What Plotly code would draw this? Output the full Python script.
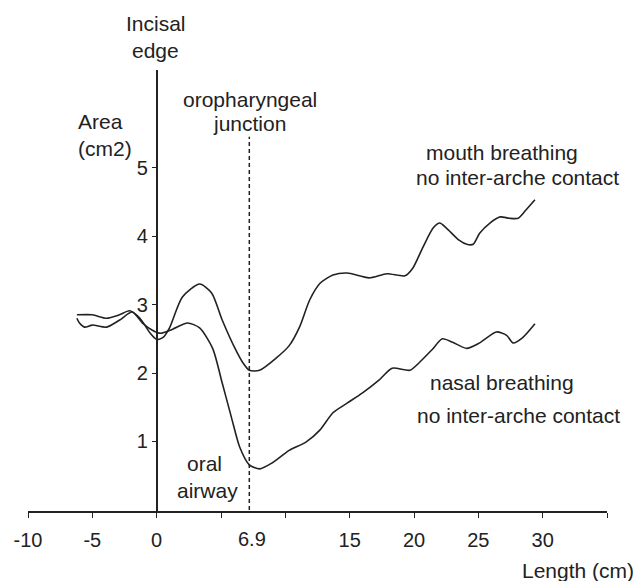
import plotly.graph_objects as go

# ---- data ----
mouth_x = [-6.2, -5.0, -3.9, -2.9, -2.1, -1.3, -0.5, 0.0, 0.5, 1.0, 2.0, 3.34, 4.27, 5.1, 6.06,
           6.7, 7.2, 8.0, 9.3, 10.3, 11.1, 11.9, 12.7, 13.7, 14.8, 16.5, 17.9, 19.3, 19.9, 20.7,
           21.5, 22.0, 22.5, 23.5, 24.1, 24.6, 25.1, 25.9, 26.7, 27.4, 28.1, 28.7, 29.4]
mouth_y = [2.85, 2.85, 2.80, 2.85, 2.91, 2.80, 2.58, 2.49, 2.52, 2.66, 3.11, 3.30, 3.17, 2.77, 2.37,
           2.15, 2.04, 2.04, 2.22, 2.40, 2.67, 3.07, 3.31, 3.43, 3.46, 3.39, 3.45, 3.42, 3.53, 3.84,
           4.12, 4.19, 4.12, 3.94, 3.88, 3.88, 4.04, 4.19, 4.28, 4.26, 4.26, 4.38, 4.53]

nasal_x = [-6.2, -6.0, -5.6, -5.0, -3.9, -2.9, -1.9, -1.1, -0.3, 0.3, 1.24, 2.4, 3.34, 4.35, 5.1,
           5.8, 6.45, 7.2, 8.0, 9.0, 10.3, 11.6, 12.7, 13.7, 14.8, 16.0, 17.3, 18.3,
           19.7, 20.4, 21.4, 22.2, 23.0, 24.1, 25.1, 26.4, 27.2, 27.7, 28.4, 29.4]
nasal_y = [2.80, 2.73, 2.67, 2.70, 2.67, 2.77, 2.89, 2.73, 2.62, 2.58, 2.64, 2.73, 2.66, 2.36, 1.85,
           1.36, 0.92, 0.66, 0.60, 0.69, 0.87, 0.99, 1.17, 1.42, 1.56, 1.71, 1.90, 2.07,
           2.04, 2.15, 2.34, 2.50, 2.45, 2.36, 2.44, 2.60, 2.55, 2.44, 2.51, 2.72]

x_tickvals = [-10, -5, 0, 5, 10, 15, 20, 25, 30, 35]
x_ticktext = ["-10", "-5", "0", "", "", "15", "20", "25", "30", ""]
y_tickvals = [1, 2, 3, 4, 5]
y_ticktext = ["1", "2", "3", "4", "5"]

junction_x = 7.2
junction_label = "6.9"

INK = "#222222"
FONT = "Liberation Sans, Arial, sans-serif"

OFF = 8  # default page body margin
W, H = 641 - OFF, 581 - OFF
ML, MR, MT, MB = 28 - OFF, 34, 70 - OFF, 70
PW, PH = W - ML - MR, H - MT - MB

fig = go.Figure()
for xs, ys in [(mouth_x, mouth_y), (nasal_x, nasal_y)]:
    fig.add_trace(go.Scatter(x=xs, y=ys, mode="lines",
                             line=dict(color=INK, width=1.6, shape="spline", smoothing=0.7),
                             showlegend=False, hoverinfo="skip"))

fig.add_shape(type="line", xref="x", yref="y", x0=junction_x, x1=junction_x, y0=0, y1=5.45,
              line=dict(color=INK, width=1.5, dash="4px,3px"))

def txt(s, px, py, xanchor="center", size=21):
    # px, py: pixel position of the label anchor in the screenshot
    fig.add_annotation(text=s, x=(px - OFF - ML) / PW, y=(OFF + H - MB - py) / PH,
                       xref="paper", yref="paper", showarrow=False,
                       xanchor=xanchor, yanchor="middle",
                       font=dict(family=FONT, size=size, color=INK))

txt("Incisal", 156, 23)
txt("edge", 155, 50)
txt("Area", 76, 121, xanchor="left")
txt("(cm2)", 76, 148, xanchor="left")
txt("oropharyngeal", 250, 100)
txt("junction", 250, 123)
txt("mouth breathing", 502, 153)
txt("no inter-arche contact", 517, 177)
txt("nasal breathing", 502, 382)
txt("no inter-arche contact", 518, 415)
txt("oral", 204, 463)
txt("airway", 207, 490)
txt("Length (cm)", 578, 570)
txt(junction_label, 252, 539, size=20)

fig.update_layout(
    width=W, height=H,
    margin=dict(l=ML, r=MR, t=MT, b=MB, autoexpand=False),
    paper_bgcolor="white", plot_bgcolor="white",
    font=dict(family=FONT, size=20, color=INK),
    xaxis=dict(range=[-10, 35], showgrid=False, zeroline=False, automargin=False,
               showline=True, linecolor=INK, linewidth=1.5,
               ticks="outside", ticklen=5, tickwidth=1.2, tickcolor=INK,
               tickvals=x_tickvals, ticktext=x_ticktext, ticklabelstandoff=5,
               tickfont=dict(family=FONT, size=20, color=INK)),
    yaxis=dict(range=[-0.015, 6.425], showgrid=False, zeroline=False, automargin=False,
               anchor="free", position=10 / 45,
               showline=True, linecolor=INK, linewidth=1.5,
               ticks="outside", ticklen=4, tickwidth=1.2, tickcolor=INK,
               tickvals=y_tickvals, ticktext=y_ticktext,
               tickfont=dict(family=FONT, size=20, color=INK)),
)

fig.write_html("out.html")
